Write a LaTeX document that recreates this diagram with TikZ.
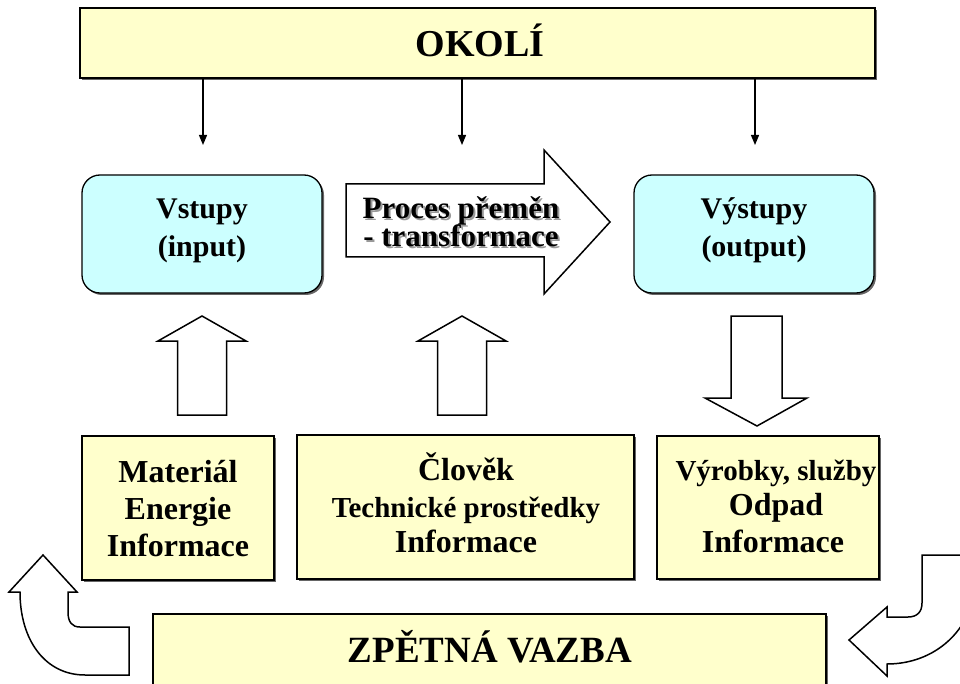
\documentclass[tikz,border=0pt]{standalone}
\usepackage{fontspec}
\setmainfont{Liberation Serif}
\usetikzlibrary{arrows.meta,shadows}
\definecolor{paleyellow}{HTML}{FFFFCC}
\definecolor{palecyan}{HTML}{CCFFFF}
\begin{document}
\begin{tikzpicture}[x=1pt,y=-1pt,
  boxshadow/.style={drop shadow={shadow xshift=2pt,shadow yshift=-2pt,fill=black!60,opacity=1}},
  envbox/.style={draw=black,line width=1.3pt,fill=paleyellow,boxshadow,inner sep=0pt},
  iobox/.style={draw=black,line width=1.3pt,fill=palecyan,rounded corners=18pt,boxshadow,inner sep=0pt},
  txt/.style={anchor=base,inner sep=0pt,font=\bfseries\fontsize{#1}{#1}\selectfont},
  txt/.default=30,
  shadetxt/.style={txt=#1,text=black!40},
  block/.style={draw=black,line width=1.5pt,fill=white,line join=miter},
  feed/.style={-{Triangle[length=10pt,width=8pt]},line width=1.2pt}
]
\path[use as bounding box] (0,0) rectangle (960,684);

% environment on top
\node[envbox,minimum width=795pt,minimum height=70pt] (okoli) at (477.5,43) {};
\node[txt=38] (okolit) at (480,57) {OKOLÍ};

% inputs / outputs
\node[iobox,minimum width=240pt,minimum height=118pt] (vstupy) at (202,234) {};
\node[txt=30] (vst1) at (202,219) {Vstupy};
\node[txt=30] (vst2) at (202,257) {(input)};

\node[iobox,minimum width=240pt,minimum height=118pt] (vystupy) at (754,234) {};
\node[txt=30] (vys1) at (754,219) {Výstupy};
\node[txt=30] (vys2) at (754,257) {(output)};

% transformation arrow
\draw[block] (346,184) -- (544,184) -- (544,150) -- (610,222) -- (544,294)
  -- (544,257) -- (346,257) -- cycle;
\node[shadetxt=31] (proc1s) at (463,221) {Proces přeměn};
\node[shadetxt=31] (proc2s) at (463,249) {- transformace};
\node[txt=31] (proc1) at (461,219) {Proces přeměn};
\node[txt=31] (proc2) at (461,247) {- transformace};

% arrows from the environment
\coordinate (e1) at (203,145);
\coordinate (e2) at (462,145);
\coordinate (e3) at (755,145);
\draw[feed] (okoli.south -| e1) -- (e1);
\draw[feed] (okoli.south -| e2) -- (e2);
\draw[feed] (okoli.south -| e3) -- (e3);

% resource boxes
\node[envbox,minimum width=192pt,minimum height=144pt] (mat) at (178,508) {};
\node[txt=32] (mat1) at (178,482) {Materiál};
\node[txt=32] (mat2) at (178,519) {Energie};
\node[txt=32] (mat3) at (178,556) {Informace};

\node[envbox,minimum width=337pt,minimum height=144pt] (clo) at (465.5,507) {};
\node[txt=32] (clo1) at (466,480) {Člověk};
\node[txt=29] (clo2) at (466,517) {Technické prostředky};
\node[txt=32] (clo3) at (466,552) {Informace};

\node[envbox,minimum width=222pt,minimum height=143pt] (vyr) at (768,507.5) {};
\node[txt=29] (vyr1) at (776,480) {Výrobky, služby};
\node[txt=32] (vyr2) at (776,515) {Odpad};
\node[txt=32] (vyr3) at (773,552) {Informace};

% block arrows between the rows
\draw[block] (177.5,415) -- (177.5,341) -- (158,341) -- (202,316) -- (246,341)
  -- (226.5,341) -- (226.5,415) -- cycle;
\draw[block] (437.5,415) -- (437.5,341) -- (418,341) -- (462,316) -- (506,341)
  -- (486.5,341) -- (486.5,415) -- cycle;
\draw[block] (731,316) -- (782,316) -- (782,398) -- (807,398) -- (757,426)
  -- (705,398) -- (731,398) -- cycle;

% feedback
\begin{scope}
\clip (0,0) rectangle (960,684);
\node[envbox,minimum width=673pt,minimum height=90pt] (zpet) at (489.5,659) {};
\node[txt=37] (zpett) at (490,662) {ZPĚTNÁ VAZBA};

% bent arrow on the left, pointing up
\draw[block] (129,675) -- (129,627) -- (80,627) .. controls (72,627) and (68,622) .. (68,612)
  -- (68,592) -- (77,592) -- (43,555) -- (9,592) -- (20,592)
  .. controls (20,640) and (45,675) .. (85,675) -- cycle;

% bent arrow on the right, pointing left
\draw[block] (922,555) -- (975,555) -- (975,585)
  .. controls (972,630) and (935,664) .. (887,664) -- (887,676) -- (849,640)
  -- (887,607) -- (887,617) -- (908,617) .. controls (917,617) and (922,612) .. (922,603)
  -- cycle;
\end{scope}
\end{tikzpicture}
\end{document}
